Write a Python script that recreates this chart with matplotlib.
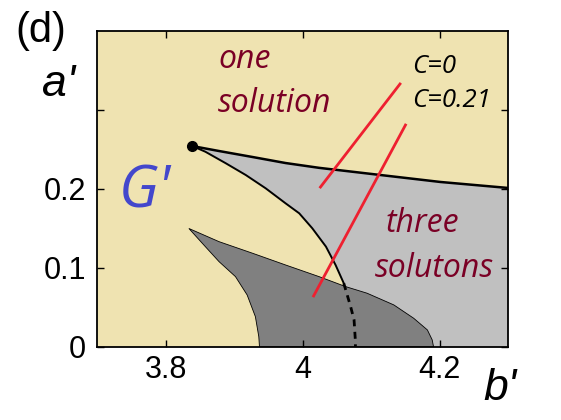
import numpy as np
import matplotlib.pyplot as plt

# кривая слева от области трёх решений (сплошная + пунктир)
curve_b = [3.839, 3.858, 3.888, 3.917, 3.946, 3.975, 3.995, 4.014, 4.034, 4.048, 4.060]
curve_a = [0.2544, 0.2472, 0.2325, 0.2177, 0.2009, 0.1819, 0.1692, 0.1503, 0.1270,
           0.1038, 0.0806]
dash_b = [4.060, 4.070, 4.075, 4.077, 4.077]
dash_a = [0.0806, 0.0510, 0.0342, 0.0067, 0.0]

# верхняя граница области трёх решений
upper_b = [3.839, 3.878, 3.927, 3.975, 4.024, 4.092, 4.201, 4.300]
upper_a = [0.2544, 0.2481, 0.2405, 0.2329, 0.2268, 0.2199, 0.2089, 0.2013]

# тёмная область (C=0.21)
dark_top_b = [3.834, 3.878, 3.927, 3.975, 4.024, 4.063, 4.094, 4.133, 4.162, 4.182,
              4.189, 4.191]
dark_top_a = [0.1500, 0.1333, 0.1186, 0.1038, 0.0890, 0.0763, 0.0680, 0.0532, 0.0363,
              0.0215, 0.0089, 0.0]
dark_left_b = [3.834, 3.858, 3.878, 3.902, 3.919, 3.931, 3.936, 3.937]
dark_left_a = [0.1500, 0.1270, 0.1080, 0.0890, 0.0658, 0.0384, 0.0130, 0.0]

cusp = (3.839, 0.2544)

# красные указатели
red1_b, red1_a = [4.026, 4.142], [0.2025, 0.333]
red2_b, red2_a = [4.016, 4.150], [0.0646, 0.281]

xticks = [3.8, 4.0, 4.2]
xticklabels = ["3.8", "4", "4.2"]
yticks = [0, 0.1, 0.2, 0.3]
yticklabels = ["0", "0.1", "0.2", ""]

beige = "#efe3b1"
light = "#c0c0c0"
dark = "#808080"
wine = "#7a0025"

fig = plt.figure(figsize=(5.61, 4.2), dpi=100)
ax = fig.add_axes([0.173, 0.174, 0.733, 0.752])
ax.set_facecolor(beige)

# светло-серая область
lx = upper_b + [4.3, 4.3] + dash_b[::-1] + curve_b[::-1]
ly = upper_a + [0.2013, 0.0] + dash_a[::-1] + curve_a[::-1]
ax.fill(lx, ly, color=light, lw=0)

# тёмно-серая область
dx = dark_top_b + dark_left_b[::-1]
dy = dark_top_a + dark_left_a[::-1]
ax.fill(dx, dy, facecolor=dark, edgecolor="black", lw=0.6)

ax.plot(upper_b, upper_a, color="black", lw=1.8)
ax.plot(curve_b, curve_a, color="black", lw=1.4)
ax.plot(dash_b, dash_a, color="black", lw=2, ls=(0, (2.5, 2)))
ax.plot(*cusp, "o", color="black", ms=7)

ax.plot(red1_b, red1_a, color="#ee2030", lw=2)
ax.plot(red2_b, red2_a, color="#ee2030", lw=2)

ax.set_xlim(3.7, 4.3)
ax.set_ylim(0, 0.4)
ax.set_xticks(xticks)
ax.set_xticklabels(xticklabels)
ax.set_yticks(yticks)
ax.set_yticklabels(yticklabels)
ax.tick_params(direction="in", length=5, width=1, top=True, right=True,
               labelsize=22, pad=8)
ax.tick_params(axis="x", pad=6)
for lab in ax.get_xticklabels() + ax.get_yticklabels():
    lab.set_family("Liberation Sans")
for s in ax.spines.values():
    s.set_linewidth(1.3)

it = dict(family="Open Sans", style="italic")
ax.text(3.877, 0.353, "one", color=wine, fontsize=23, **it)
ax.text(3.876, 0.297, "solution", color=wine, fontsize=23, **it)
ax.text(4.121, 0.146, "three", color=wine, fontsize=23, **it)
ax.text(4.106, 0.0886, "solutons", color=wine, fontsize=23, **it)
ax.text(4.159, 0.347, "C=0", color="black", fontsize=18.5, **it)
ax.text(4.159, 0.304, "C=0.21", color="black", fontsize=18.5, **it)
ax.text(3.731, 0.176, "G'", color="#4347cc", fontsize=42, **it)

fig.text(0.027, 0.926, "(d)", fontsize=30, family="Liberation Sans", va="center")
fig.text(0.105, 0.798, "a'", fontsize=32, family="Liberation Sans",
         style="italic", ha="center", va="center")
fig.text(0.891, 0.074, "b'", fontsize=32, family="Liberation Sans",
         style="italic", ha="center", va="center")

fig.savefig("out.png", dpi=100)
